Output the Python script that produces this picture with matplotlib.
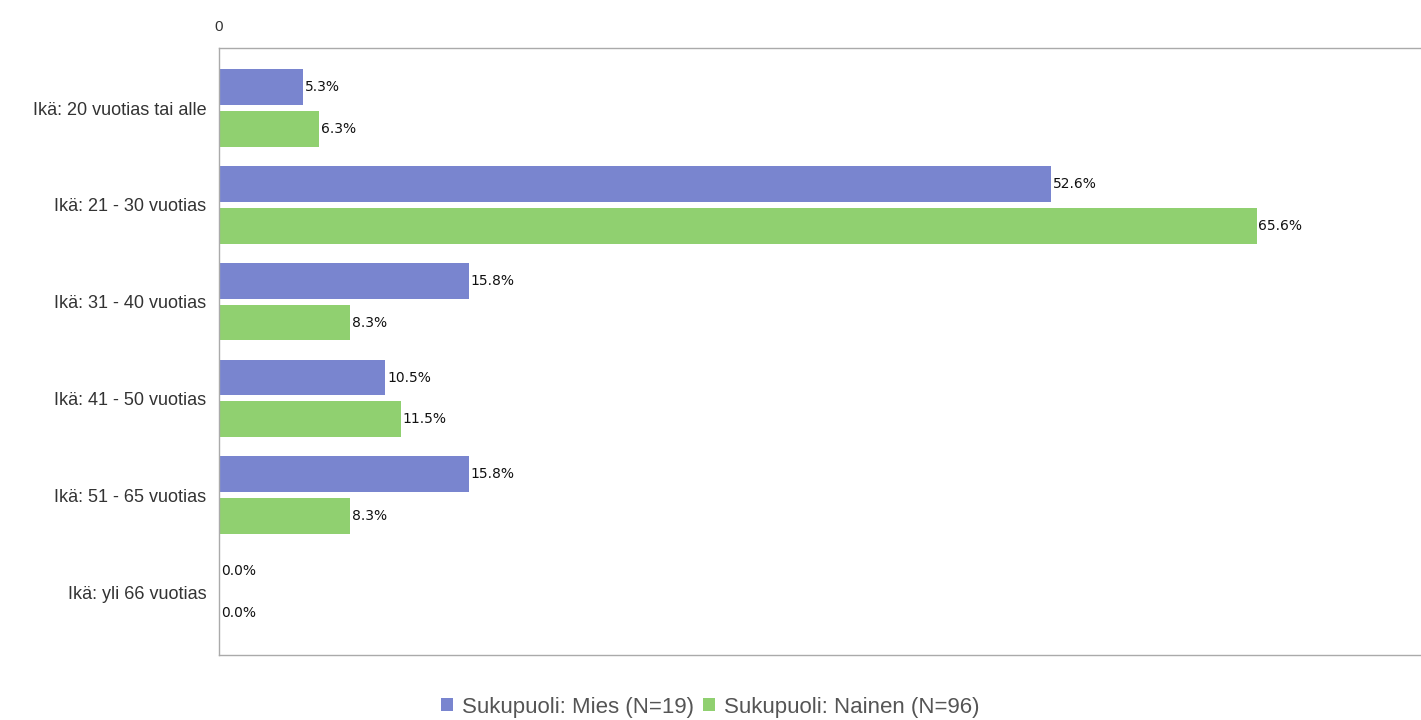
import matplotlib.pyplot as plt
import numpy as np

categories = [
    "Ikä: 20 vuotias tai alle",
    "Ikä: 21 - 30 vuotias",
    "Ikä: 31 - 40 vuotias",
    "Ikä: 41 - 50 vuotias",
    "Ikä: 51 - 65 vuotias",
    "Ikä: yli 66 vuotias",
]
mies = [5.3, 52.6, 15.8, 10.5, 15.8, 0.0]
nainen = [6.3, 65.6, 8.3, 11.5, 8.3, 0.0]
series_labels = ["Sukupuoli: Mies (N=19)", "Sukupuoli: Nainen (N=96)"]

blue = "#7985cf"
green = "#90d070"

fig = plt.figure(figsize=(14.21, 7.2), dpi=100)
ax = fig.add_axes([219 / 1421, 65 / 720, 1 - 219 / 1421, 607 / 720])

y = np.arange(len(categories))
h = 0.37
off = 0.216
b1 = ax.barh(y - off, mies, height=h, color=blue, label=series_labels[0])
b2 = ax.barh(y + off, nainen, height=h, color=green, label=series_labels[1])

# value labels just right of each bar end
for bars, vals in ((b1, mies), (b2, nainen)):
    for bar, v in zip(bars, vals):
        ax.text(v + 0.12, bar.get_y() + bar.get_height() / 2, f"{v:.1f}%",
                va="center", ha="left", fontsize=10, color="#111111",
                family="DejaVu Sans")

ax.set_xlim(0, 76)
ax.set_ylim(5.65, -0.62)
ax.set_yticks(y)
ax.set_yticklabels(categories, fontsize=13, color="#333333", family="Liberation Sans")
ax.tick_params(axis="y", length=0, pad=9)

ax.xaxis.tick_top()
ax.set_xticks([0])
ax.set_xticklabels(["0"], fontsize=11, color="#333333", family="Liberation Sans")
ax.tick_params(axis="x", length=0, pad=10)

for s in ("top", "left", "bottom"):
    ax.spines[s].set_color("#aaaaaa")
    ax.spines[s].set_linewidth(1)
ax.spines["right"].set_visible(False)

leg = fig.legend(handles=[b1, b2], loc="center", bbox_to_anchor=(0.5, 13 / 720),
                 ncol=2, frameon=False, handlelength=0.55, handleheight=0.55,
                 handletextpad=0.4, columnspacing=0.4,
                 prop={"family": "Liberation Sans", "size": 16})
for t in leg.get_texts():
    t.set_color("#555555")

fig.savefig("out.png", dpi=100, facecolor="white")
